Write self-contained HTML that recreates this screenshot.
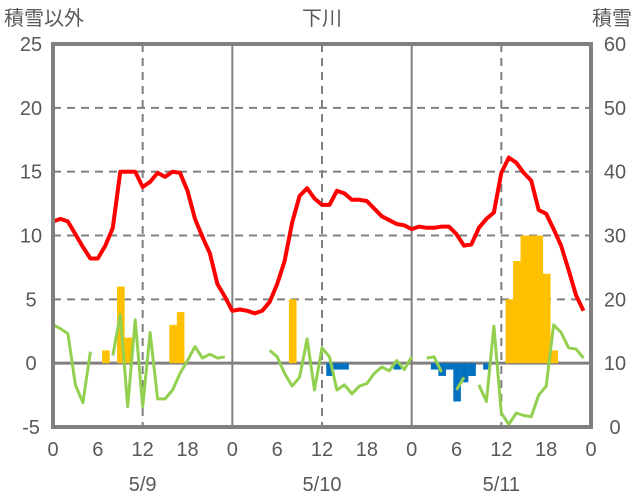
<!DOCTYPE html>
<html><head><meta charset="utf-8"><style>
body{margin:0;background:#fff;}
svg{display:block;font-family:"Liberation Sans","Noto Sans CJK JP",sans-serif;}
text{fill:#595959;font-size:20px;}
</style></head><body>
<svg id="chart" width="636" height="501">
<g id="grid"></g>
<g id="bars"></g>
<g id="lines"></g>
<g id="axes"></g>
</svg>
<script>
const temp=[11.1,11.3,11.1,10.1,9.1,8.2,8.2,9.2,10.6,15.0,15.0,15.0,13.8,14.2,14.9,14.6,15.0,14.9,13.5,11.3,9.9,8.6,6.2,5.2,
4.1,4.2,4.1,3.9,4.1,4.8,6.2,8.0,11.0,13.1,13.7,12.9,12.4,12.4,13.5,13.3,12.8,12.8,12.7,12.1,11.5,11.2,10.9,10.8,
10.5,10.7,10.6,10.6,10.7,10.7,10.1,9.2,9.3,10.6,11.3,11.8,14.9,16.1,15.7,14.9,14.3,12.0,11.7,10.5,9.2,7.3,5.3,4.1];
const green=[3.0,2.7,2.3,-1.7,-3.1,0.9,null,null,0.6,3.8,-3.4,3.4,-3.4,2.4,-2.8,-2.8,-2.1,-0.8,0.2,1.3,0.4,0.7,0.4,0.5,
null,null,null,null,null,1.0,0.5,-0.8,-1.8,-1.1,1.9,-2.1,1.2,0.5,-2.1,-1.7,-2.4,-1.8,-1.6,-0.8,-0.3,-0.6,0.2,-0.5,
0.5,null,0.4,0.5,-0.7,null,-2.1,-1.1,null,-1.7,-3.0,2.9,-3.9,-4.8,-3.9,-4.1,-4.2,-2.5,-1.8,3.0,2.4,1.2,1.1,0.4];
const barHours=[7,9,10,16,17,32,37,38,39,46,51,52,53,54,55,56,58,61,62,63,64,65,66,67];
const barValues=[1,6,2,3,4,5,-1,-0.5,-0.5,-0.5,-0.5,-1,-0.5,-3,-1.5,-1,-0.5,5,8,10,10,10,7,1];
const snowDepth=[0,0,0,0,0,0,0,0,0,0,0,0,0,0,0,0];
const leftTicks=[-5,0,5,10,15,20,25];
const rightTicks=[0,10,20,30,40,50,60];
const hourTicks=["0","6","12","18","0","6","12","18","0","6","12","18","0"];
const dates=["5/9","5/10","5/11"];

const X0=53,X1=591,Y0=427,Y1=44,NS="http://www.w3.org/2000/svg";
const x=h=>X0+(X1-X0)*h/72;
const y=v=>Y0-(Y0-Y1)*(v+5)/30;
const yr=v=>Y0-(Y0-Y1)*v/60;
function mk(tag,attrs,parent,txt){const e=document.createElementNS(NS,tag);for(const k in attrs)e.setAttribute(k,attrs[k]);if(txt!==undefined)e.textContent=txt;document.getElementById(parent).appendChild(e);return e;}

[5,10,15,20].forEach(v=>{const e=mk('line',{x1:X0,x2:X1,y1:y(v),y2:y(v),stroke:'#808080','stroke-width':2,'stroke-dasharray':'8,6'},'grid');

});
[12,36,60].forEach(h=>{const e=mk('line',{x1:x(h),x2:x(h),y1:Y1,y2:Y0,stroke:'#808080','stroke-width':2,'stroke-dasharray':'8,6'},'grid');

});
[24,48].forEach(h=>{const e=mk('line',{x1:x(h),x2:x(h),y1:Y1,y2:Y0,stroke:'#808080','stroke-width':2},'grid');

});

barHours.forEach((h,i)=>{const v=barValues[i];const top=Math.min(y(v),y(0)),bot=Math.max(y(v),y(0));
const e=mk('rect',{x:x(h)-3.2,y:top,width:7.6,height:bot-top,fill:v>=0?'#FFC000':'#0070C0'},'bars');

});

const z=mk('line',{x1:X0,x2:X1,y1:y(0),y2:y(0),stroke:'#808080','stroke-width':3},'grid');



function path(arr,fx,fy){let d='',pen=false;arr.forEach((v,i)=>{if(v===null){pen=false;return;}d+=(pen?'L':'M')+fx(i).toFixed(1)+','+fy(v).toFixed(1);pen=true;});return d;}
const g=mk('path',{d:path(green,x,y),fill:'none',stroke:'#92D050','stroke-width':3,'stroke-linejoin':'round'},'lines');


const t=mk('path',{d:path(temp,x,y),fill:'none',stroke:'#FF0000','stroke-width':4,'stroke-linejoin':'round'},'lines');


const s=mk('path',{d:path(snowDepth,x,yr),fill:'none',stroke:'#7030A0','stroke-width':3},'lines');



const f=mk('rect',{x:X0,y:Y1,width:X1-X0,height:Y0-Y1,fill:'none',stroke:'#808080','stroke-width':4},'axes');



leftTicks.forEach(v=>{const e=mk('text',{x:31,y:y(v)+7,'text-anchor':'middle'},'axes',String(v));

});
rightTicks.forEach(v=>{const e=mk('text',{x:615,y:yr(v)+7,'text-anchor':'middle'},'axes',String(v));

});
hourTicks.forEach((l,i)=>{const e=mk('text',{x:x(i*6),y:456,'text-anchor':'middle'},'axes',l);

});
dates.forEach((d,i)=>{const e=mk('text',{x:x(12+24*i),y:491,'text-anchor':'middle'},'axes',d);

});
const t1=mk('text',{x:4,y:25},'axes','積雪以外');


const t2=mk('text',{x:632,y:25,'text-anchor':'end'},'axes','積雪');


const t3=mk('text',{x:322,y:25,'text-anchor':'middle'},'axes','下川');


</script>
</body></html>
